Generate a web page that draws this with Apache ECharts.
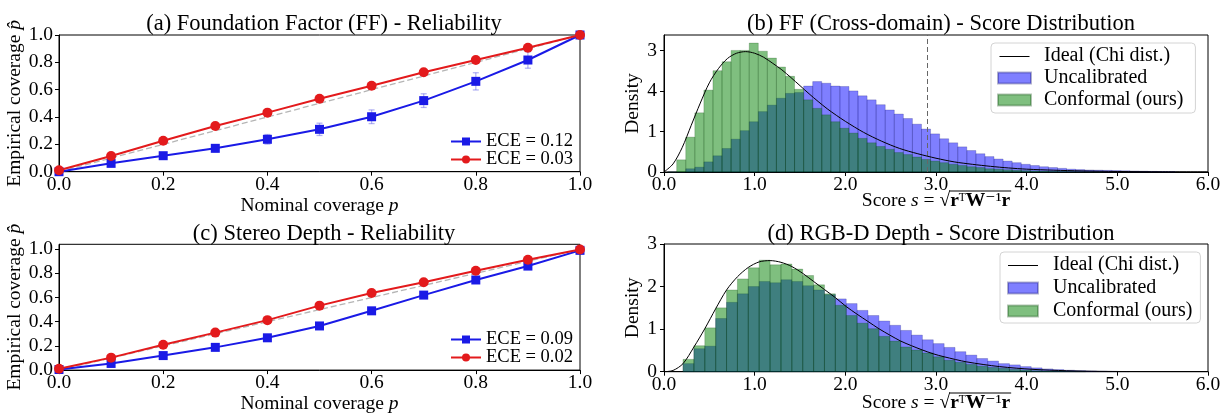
<!DOCTYPE html>
<html>
<head>
<meta charset="utf-8">
<script src="https://cdn.jsdelivr.net/npm/echarts@6/dist/echarts.min.js"></script>
<style>
  html, body { margin: 0; padding: 0; background: #fff; }
  #chart { width: 1229px; height: 415px; }
</style>
</head>
<body>
<div id="chart"></div>
<script>
// reliability panels (a) and (c)
const coverage = [0, 0.1, 0.2, 0.3, 0.4, 0.5, 0.6, 0.7, 0.8, 0.9, 1.0];
const ffUncal = [0.0, 0.061, 0.117, 0.171, 0.237, 0.31, 0.402, 0.52, 0.661, 0.817, 1.0];
const ffUncalErr = [0, 0.015, 0.02, 0.025, 0.035, 0.045, 0.05, 0.05, 0.063, 0.06, 0];
const ffConf = [0.01, 0.115, 0.227, 0.334, 0.432, 0.534, 0.629, 0.727, 0.817, 0.907, 1.0];
const stereoUncal = [0.005, 0.055, 0.12, 0.188, 0.267, 0.365, 0.49, 0.62, 0.745, 0.86, 0.99];
const stereoUncalErr = [0, 0.005, 0.008, 0.008, 0.01, 0.012, 0.012, 0.015, 0.02, 0.018, 0];
const stereoConf = [0.011, 0.103, 0.21, 0.31, 0.413, 0.533, 0.637, 0.727, 0.822, 0.913, 0.997];
const coverageTicks = [0, 0.2, 0.4, 0.6, 0.8, 1.0];

// score distributions (b) and (d): bins start + width, heights per bin
const binStartB = 0.04, binWidthB = 0.1;
const uncalB = [0, 0, 0.08, 0.12, 0.25, 0.40, 0.58, 0.81, 1.02, 1.24,
  1.49, 1.65, 1.82, 1.94, 1.96, 2.12, 2.23, 2.19, 2.12, 2.11,
  2.0, 1.88, 1.78, 1.66, 1.53, 1.43, 1.32, 1.18, 1.06, 0.94,
  0.82, 0.72, 0.62, 0.53, 0.45, 0.38, 0.32, 0.27, 0.23, 0.19,
  0.16, 0.13, 0.11, 0.09, 0.07, 0.06, 0.05, 0.045, 0.04, 0.035,
  0.03, 0.025, 0.02, 0.015, 0.01, 0.008];
const confB = [0, 0.30, 0.86, 1.46, 2.02, 2.50, 2.72, 3.0, 3.0, 3.18,
  2.98, 2.81, 2.59, 2.36, 2.04, 1.78, 1.57, 1.41, 1.24, 1.08,
  0.96, 0.83, 0.72, 0.63, 0.56, 0.48, 0.43, 0.37, 0.31, 0.27,
  0.23, 0.19, 0.16, 0.13, 0.11, 0.08, 0.07, 0.055, 0.045, 0.035,
  0.028, 0.022, 0.017, 0.013, 0.01, 0.007, 0.005, 0.003];
const chiXB = [0, 0.1, 0.2, 0.3, 0.4, 0.5, 0.6, 0.7, 0.8, 0.9, 1.0, 1.1, 1.2, 1.3, 1.4, 1.5, 1.6, 1.7, 1.8, 1.9,
  2.0, 2.2, 2.4, 2.6, 2.8, 3.0, 3.2, 3.4, 3.6, 3.8, 4.0, 4.3, 4.6, 5.0, 5.5, 6.0];
const chiYB = [0, 0.2, 0.6, 1.15, 1.7, 2.2, 2.55, 2.8, 2.93, 2.97, 2.93, 2.83, 2.68, 2.52, 2.33, 2.13, 1.93, 1.74, 1.56, 1.40,
  1.25, 0.98, 0.76, 0.58, 0.45, 0.34, 0.25, 0.19, 0.14, 0.10, 0.07, 0.045, 0.027, 0.013, 0.005, 0.002];
const thresholdB = 2.9;
const densityTicksB = [0, 1, 2, 3];
const densityLabelsB = ['0', '1', '4', '3'];

const binStartD = 0.21, binWidthD = 0.12;
const uncalD = [0.19, 0.54, 0.6, 1.25, 1.63, 1.83, 2.0, 2.12, 2.09, 2.16,
  2.12, 2.02, 1.92, 1.81, 1.71, 1.60, 1.44, 1.32, 1.19, 1.09,
  0.97, 0.86, 0.75, 0.66, 0.57, 0.47, 0.39, 0.31, 0.25, 0.19,
  0.16, 0.12, 0.09, 0.065, 0.05, 0.035, 0.025, 0.018, 0.012, 0.008, 0.005];
const confD = [0.29, 0.61, 1.03, 1.50, 1.92, 2.18, 2.44, 2.62, 2.51, 2.53,
  2.41, 2.26, 2.04, 1.83, 1.56, 1.32, 1.14, 1.01, 0.83, 0.72,
  0.58, 0.51, 0.44, 0.35, 0.27, 0.22, 0.17, 0.13, 0.10, 0.08,
  0.055, 0.04, 0.025, 0.016, 0.01, 0.006, 0.003];
const chiXD = [0, 0.1, 0.21, 0.33, 0.45, 0.57, 0.69, 0.81, 0.93, 1.05, 1.17, 1.29, 1.41, 1.53, 1.65, 1.77, 1.89,
  2.01, 2.13, 2.25, 2.37, 2.49, 2.61, 2.73, 2.85, 2.97, 3.09, 3.34, 3.70, 4.07, 4.44, 4.80, 5.4, 6.0];
const chiYD = [0, 0.03, 0.19, 0.58, 1.01, 1.48, 1.92, 2.23, 2.45, 2.58, 2.61, 2.57, 2.47, 2.31, 2.12, 1.93, 1.74,
  1.53, 1.35, 1.18, 1.01, 0.86, 0.72, 0.61, 0.51, 0.42, 0.35, 0.23, 0.12, 0.055, 0.023, 0.008, 0.002, 0];
const densityTicksD = [0, 1, 2, 3];
const scoreTicks = [0, 1, 2, 3, 4, 5, 6];

const FONT = "'Liberation Serif', 'DejaVu Serif', serif";
const BLUE = '#1a1ae6';
const RED = '#e31a1c';
const ERR = 'rgba(90,90,230,0.45)';
const UNCAL_FILL = 'rgba(0,0,255,0.5)';
const CONF_FILL = 'rgba(0,128,0,0.5)';
// thin horizontal stroke for the "Ideal" legend entry (tiny corner specks keep the box size)
const LINE_ICON = 'path://M0,0L0.01,0L0,0.01Z M0,5.5H30V6.6H0Z M30,11L29.99,11L30,10.99Z';

const pairs = (xs, ys) => xs.map((x, i) => [x, ys[i]]);
const bins = (start, w, hs) => hs.map((h, k) => [start + k * w, start + (k + 1) * w, h]);
const errs = (ys, es) => coverage.map((x, i) => [x, ys[i] - es[i], ys[i] + es[i]]).filter((d, i) => es[i] > 0);

function renderBin(params, api) {
  const p0 = api.coord([api.value(0), api.value(2)]);
  const p1 = api.coord([api.value(1), 0]);
  return {
    type: 'rect',
    shape: { x: p0[0], y: p0[1], width: p1[0] - p0[0], height: p1[1] - p0[1] },
    style: api.style()
  };
}

function renderErr(params, api) {
  const hi = api.coord([api.value(0), api.value(2)]);
  const lo = api.coord([api.value(0), api.value(1)]);
  const st = { stroke: ERR, lineWidth: 1.3 };
  return {
    type: 'group',
    children: [
      { type: 'line', shape: { x1: hi[0], y1: hi[1], x2: lo[0], y2: lo[1] }, style: st },
      { type: 'line', shape: { x1: hi[0] - 3, y1: hi[1], x2: hi[0] + 3, y2: hi[1] }, style: st },
      { type: 'line', shape: { x1: lo[0] - 3, y1: lo[1], x2: lo[0] + 3, y2: lo[1] }, style: st }
    ]
  };
}

const tickText = { color: '#000', fontFamily: FONT, fontSize: 19.5 };
const axisLine = { show: true, onZero: false, lineStyle: { color: '#000', width: 1 } };
const axisTick = { show: true, length: 4, lineStyle: { color: '#000' } };

function coverageX(gi) {
  return {
    type: 'value', gridIndex: gi, min: 0, max: 1, interval: 0.2,
    axisLine, axisTick, splitLine: { show: false },
    axisLabel: Object.assign({ margin: 3, formatter: v => v.toFixed(1) }, tickText),
    name: 'Nominal coverage {i|p}', nameLocation: 'middle', nameGap: gi === 0 ? 20 : 22,
    nameTextStyle: { color: '#000', fontFamily: FONT, fontSize: 19.5, rich: { i: { fontFamily: FONT, fontSize: 19.5, fontStyle: 'italic' } } }
  };
}
function coverageY(gi, max) {
  return {
    type: 'value', gridIndex: gi, min: 0, max: max,
    axisLine, splitLine: { show: false },
    axisTick: Object.assign({ customValues: coverageTicks }, axisTick),
    axisLabel: Object.assign({ margin: 6, customValues: coverageTicks, formatter: v => v.toFixed(1) }, tickText),
    name: 'Empirical coverage {i|p\u0302}', nameLocation: 'middle', nameGap: 34,
    nameTextStyle: { color: '#000', fontFamily: FONT, fontSize: 19.5, rich: { i: { fontFamily: FONT, fontSize: 19.5, fontStyle: 'italic' } } }
  };
}
function scoreX(gi) {
  return {
    type: 'value', gridIndex: gi, min: 0, max: 6,
    axisLine, splitLine: { show: false },
    axisTick: Object.assign({ customValues: scoreTicks }, axisTick),
    axisLabel: Object.assign({ margin: 3, customValues: scoreTicks, formatter: v => v.toFixed(1) }, tickText)
  };
}
function densityY(gi, max, ticks, labels) {
  return {
    type: 'value', gridIndex: gi, min: 0, max: max,
    axisLine, splitLine: { show: false },
    axisTick: Object.assign({ customValues: ticks }, axisTick),
    axisLabel: Object.assign({ margin: 7, customValues: ticks,
      formatter: v => labels ? labels[ticks.indexOf(v)] : String(v) }, tickText),
    name: 'Density', nameLocation: 'middle', nameGap: 18,
    nameTextStyle: { color: '#000', fontFamily: FONT, fontSize: 19.5 }
  };
}

function diag(gi) {
  return {
    type: 'line', xAxisIndex: gi, yAxisIndex: gi, data: [[0, 0], [1, 1]], symbol: 'none', silent: true, z: 1,
    lineStyle: { color: '#b5b5b5', width: 1.3, type: [6, 3] }
  };
}
function relLine(gi, name, ys, color, symbol, size) {
  return {
    type: 'line', name, xAxisIndex: gi, yAxisIndex: gi, data: pairs(coverage, ys),
    symbol, symbolSize: size, showAllSymbol: true, z: 4,
    itemStyle: { color }, lineStyle: { color, width: 2 }
  };
}
function errSeries(gi, ys, es) {
  return {
    type: 'custom', xAxisIndex: gi, yAxisIndex: gi, renderItem: renderErr, silent: true, z: 3,
    data: errs(ys, es), encode: { x: 0, y: [1, 2] }
  };
}
function histSeries(gi, name, data, fill, edge) {
  return {
    type: 'custom', name, xAxisIndex: gi, yAxisIndex: gi, renderItem: renderBin, z: 2,
    data, encode: { x: [0, 1], y: 2 },
    itemStyle: { color: fill, borderColor: edge, borderWidth: 0.7 }
  };
}
function chiLine(gi, xs, ys) {
  return {
    type: 'line', name: 'Ideal (Chi dist.)', xAxisIndex: gi, yAxisIndex: gi, data: pairs(xs, ys),
    symbol: 'none', smooth: 0.3, z: 5, lineStyle: { color: '#000', width: 1 }, itemStyle: { color: '#000' }
  };
}

const titleStyle = { color: '#000', fontFamily: FONT, fontSize: 22.5, fontWeight: 'normal' };
const relLegend = (left, top, names) => ({
  orient: 'vertical', left, top, data: names, itemWidth: 30, itemHeight: 10, itemGap: -1, padding: 0,
  textStyle: { color: '#000', fontFamily: FONT, fontSize: 18.5 }
});
const distLegend = (left, top, pad, gap, textPad, iw) => ({
  orient: 'vertical', left, top, itemWidth: iw, itemHeight: 11, itemGap: gap, padding: pad,
  backgroundColor: 'rgba(255,255,255,0.85)', borderColor: '#d4d4d4', borderWidth: 1, borderRadius: 4,
  textStyle: { color: '#000', fontFamily: FONT, fontSize: 20, padding: [0, 0, 0, textPad] },
  data: [
    { name: 'Ideal (Chi dist.)', icon: LINE_ICON, itemStyle: { color: '#000' } },
    { name: 'Uncalibrated', icon: 'rect' },
    { name: 'Conformal (ours)', icon: 'rect' }
  ]
});

// x-axis label of the score panels, with an overline across the radicand
function scoreLabel(cx, cy) {
  const size = 19.5;
  const parts = [['Score ', ''], ['s', 'italic '], [' = ', ''], ['\u221a', ''],
    ['r', 'bold '], ['\u1d40', ''], ['W', 'bold '], ['\u207b\u00b9', ''], ['r', 'bold ']];
  const ctx = document.createElement('canvas').getContext('2d');
  const widths = parts.map(([t, st]) => { ctx.font = st + size + 'px ' + FONT; return ctx.measureText(t).width; });
  const total = widths.reduce((a, b) => a + b, 0);
  const start = cx - total / 2 + widths.slice(0, 4).reduce((a, b) => a + b, 0);
  const end = cx + total / 2;
  const styleKey = st => st === 'italic ' ? 'i' : st === 'bold ' ? 'b' : 'n';
  const text = parts.map(([t, st]) => '{' + styleKey(st) + '|' + t + '}').join('');
  return [
    {
      type: 'text', x: cx, y: cy, silent: true,
      style: {
        text, align: 'center', verticalAlign: 'middle', fill: '#000',
        rich: {
          n: { fontFamily: FONT, fontSize: size },
          i: { fontFamily: FONT, fontSize: size, fontStyle: 'italic' },
          b: { fontFamily: FONT, fontSize: size, fontWeight: 'bold' }
        }
      }
    },
    {
      type: 'line', silent: true,
      shape: { x1: start - 1, y1: cy - 10, x2: end + 1, y2: cy - 10 },
      style: { stroke: '#000', lineWidth: 1 }
    }
  ];
}

const option = {
  animation: false,
  backgroundColor: '#fff',
  title: [
    { text: '(a) Foundation Factor (FF) - Reliability', left: 319, top: 8, textAlign: 'center', textStyle: titleStyle },
    { text: '(b) FF (Cross-domain) - Score Distribution', left: 936, top: 8, textAlign: 'center', textStyle: titleStyle },
    { text: '(c) Stereo Depth - Reliability', left: 319, top: 218, textAlign: 'center', textStyle: titleStyle },
    { text: '(d) RGB-D Depth - Score Distribution', left: 936, top: 218, textAlign: 'center', textStyle: titleStyle }
  ],
  grid: [
    { left: 59, top: 35, width: 521, height: 136.7, show: true, borderColor: '#000', borderWidth: 1, backgroundColor: 'transparent' },
    { left: 664, top: 35, width: 544, height: 137, show: true, borderColor: '#000', borderWidth: 1, backgroundColor: 'transparent' },
    { left: 59, top: 244.3, width: 521, height: 126.7, show: true, borderColor: '#000', borderWidth: 1, backgroundColor: 'transparent' },
    { left: 664, top: 244, width: 544, height: 127.7, show: true, borderColor: '#000', borderWidth: 1, backgroundColor: 'transparent' }
  ],
  xAxis: [coverageX(0), scoreX(1), coverageX(2), scoreX(3)],
  yAxis: [
    coverageY(0, 1),
    densityY(1, 3.38, densityTicksB, densityLabelsB),
    coverageY(2, 1.04),
    densityY(3, 3, densityTicksD, null)
  ],
  legend: [
    relLegend(450, 132, ['ECE = 0.12', 'ECE = 0.03']),
    relLegend(450, 330, ['ECE = 0.09', 'ECE = 0.02']),
    distLegend(991, 43, [3, 12, 3, 6], 2, 8, 33),
    distLegend(1000, 252, [3, 8, 2, 7], 3, 10, 30)
  ],
  graphic: [...scoreLabel(936, 201), ...scoreLabel(936, 403)],
  series: [
    diag(0),
    errSeries(0, ffUncal, ffUncalErr),
    relLine(0, 'ECE = 0.12', ffUncal, BLUE, 'rect', 9),
    relLine(0, 'ECE = 0.03', ffConf, RED, 'circle', 10),

    histSeries(1, 'Uncalibrated', bins(binStartB, binWidthB, uncalB), UNCAL_FILL, 'rgba(0,0,90,0.3)'),
    histSeries(1, 'Conformal (ours)', bins(binStartB, binWidthB, confB), CONF_FILL, 'rgba(0,60,0,0.3)'),
    Object.assign(chiLine(1, chiXB, chiYB), {
      markLine: {
        silent: true, symbol: 'none', label: { show: false },
        lineStyle: { color: '#666', type: [5, 3], width: 1 },
        data: [{ xAxis: thresholdB }]
      }
    }),

    diag(2),
    errSeries(2, stereoUncal, stereoUncalErr),
    relLine(2, 'ECE = 0.09', stereoUncal, BLUE, 'rect', 9),
    relLine(2, 'ECE = 0.02', stereoConf, RED, 'circle', 10),

    histSeries(3, 'Uncalibrated', bins(binStartD, binWidthD, uncalD), UNCAL_FILL, 'rgba(0,0,90,0.3)'),
    histSeries(3, 'Conformal (ours)', bins(binStartD, binWidthD, confD), CONF_FILL, 'rgba(0,60,0,0.3)'),
    chiLine(3, chiXD, chiYD)
  ]
};

const myChart = echarts.init(document.getElementById('chart'));
myChart.setOption(option);
</script>
</body>
</html>
